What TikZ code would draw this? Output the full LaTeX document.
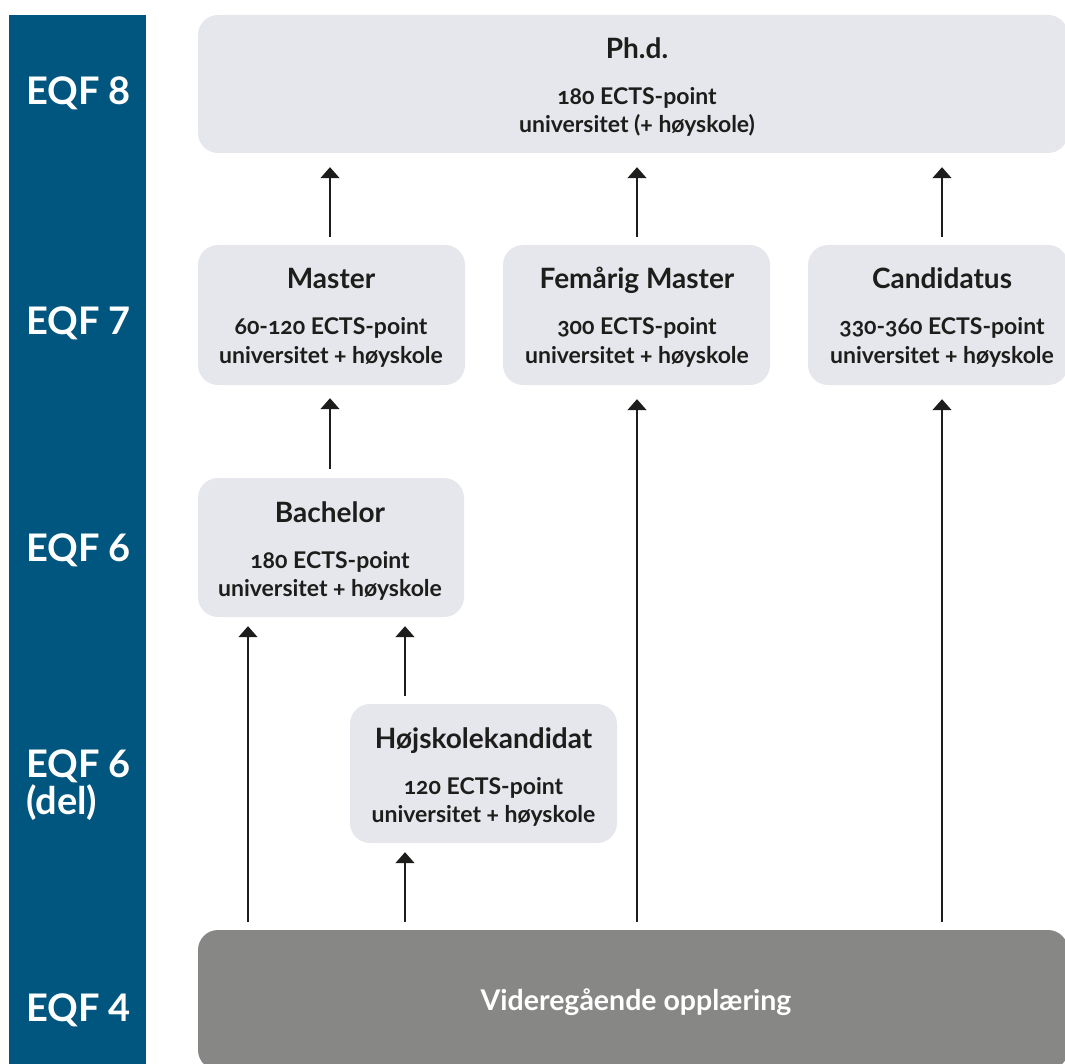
\documentclass[tikz,border=0pt]{standalone}
\usepackage{fontspec}
\setmainfont{Lato}[Numbers=OldStyle]
\newfontfamily\levelfont{Lato}[Numbers=Lining]
\usetikzlibrary{arrows.meta}

\definecolor{eqfblue}{HTML}{00567F}
\definecolor{boxgrey}{HTML}{E6E7EC}
\definecolor{basegrey}{HTML}{878786}
\definecolor{ink}{HTML}{1D1D1B}

\tikzset{
  level/.style={text=white, font=\levelfont\fontsize{38}{40}\selectfont\bfseries,
    anchor=base west, inner sep=0pt},
  stage/.style={fill=boxgrey, rounded corners=20pt, inner sep=0pt, draw=none},
  basestage/.style={fill=basegrey, rounded corners=20pt, inner sep=0pt, draw=none},
  ttl/.style={text=ink, font=\fontsize{28}{30}\selectfont\bfseries,
    anchor=base, inner sep=0pt},
  sub/.style={text=ink, font=\fontsize{23}{24}\selectfont\bfseries,
    anchor=base, inner sep=0pt},
  up/.style={draw=ink, line width=1.5pt,
    -{Triangle[width=19pt,length=11pt]}},
}

% box with a title and two lines of text; the text is centred on x = #4
\newcommand{\stagebox}[9]{%
  % #1 name, #2 centre x, #3 centre y, #4 text x, #5 top y, #6 width, #7 height
  \node[stage, minimum width=#6pt, minimum height=#7pt] (#1) at (#2,#3) {};
  \node[ttl] (#1-t) at (#4,#5+44) {#8};
  \stagelines{#1}{#4}{#5}#9}
\newcommand{\stagelines}[5]{%
  \node[sub] (#1-a) at (#2,#3+90) {#4};
  \node[sub] (#1-b) at (#2,#3+118) {#5};}

\begin{document}
\begin{tikzpicture}[x=1pt,y=-1pt]
  \useasboundingbox (0,0) rectangle (1065,1064);
  \clip (0,0) rectangle (1065,1064);

  % level column
  \fill[eqfblue] (9,15) rectangle (146,1070);
  \node[level] (eqf8) at (26,105) {EQF 8};
  \node[level] (eqf7) at (26,335) {EQF 7};
  \node[level] (eqf6) at (26,561) {EQF 6};
  \node[level] (eqf6del) at (26,777) {EQF 6};
  \node[level] (eqf6del-b) at (26,814) {(del)};
  \node[level] (eqf4) at (26,1021) {EQF 4};

  % programmes
  \stagebox{phd}{633}{84}{637}{15}{870}{138}{Ph.d.}
    {{180 ECTS-point}{universitet (+ høyskole)}}
  \stagebox{master}{331.5}{315}{331}{245}{267}{140}{Master}
    {{60-120 ECTS-point}{universitet + høyskole}}
  \stagebox{fem}{636.5}{315}{637}{245}{267}{140}{Femårig Master}
    {{300 ECTS-point}{universitet + høyskole}}
  \stagebox{cand}{938}{315}{942}{245}{260}{140}{Candidatus}
    {{330-360 ECTS-point}{universitet + høyskole}}
  \stagebox{bach}{331}{547.5}{330}{478}{266}{139}{Bachelor}
    {{180 ECTS-point}{universitet + høyskole}}
  \stagebox{hoj}{483.5}{773.5}{483.5}{704}{267}{139}{Højskolekandidat}
    {{120 ECTS-point}{universitet + høyskole}}

  % upper secondary education
  \node[basestage, minimum width=870pt, minimum height=140pt] (vgs) at (633,1000) {};
  \node[ttl, text=white, font=\fontsize{28.5}{30}\selectfont\bfseries] (vgs-t)
    at (636,1010) {Videregående opplæring};

  % progression arrows
  \coordinate (c1) at (330,0);
  \coordinate (c2) at (637,0);
  \coordinate (c3) at (942,0);
  \coordinate (c0) at (248,0);
  \coordinate (ch) at (405,0);

  \draw[up] ([yshift=8pt]master.north -| c1) -- ([yshift=-14pt]phd.south -| c1);
  \draw[up] ([yshift=8pt]fem.north -| c2) -- ([yshift=-14pt]phd.south -| c2);
  \draw[up] ([yshift=8pt]cand.north -| c3) -- ([yshift=-14pt]phd.south -| c3);
  \draw[up] ([yshift=9pt]bach.north -| c1) -- ([yshift=-13pt]master.south -| c1);
  \draw[up] ([yshift=8pt]vgs.north -| c0) -- ([yshift=-9pt]bach.south -| c0);
  \draw[up] ([yshift=8pt]hoj.north -| ch) -- ([yshift=-9pt]bach.south -| ch);
  \draw[up] ([yshift=8pt]vgs.north -| ch) -- ([yshift=-9pt]hoj.south -| ch);
  \draw[up] ([yshift=8pt]vgs.north -| c2) -- ([yshift=-14pt]fem.south -| c2);
  \draw[up] ([yshift=8pt]vgs.north -| c3) -- ([yshift=-14pt]cand.south -| c3);
\end{tikzpicture}
\end{document}
